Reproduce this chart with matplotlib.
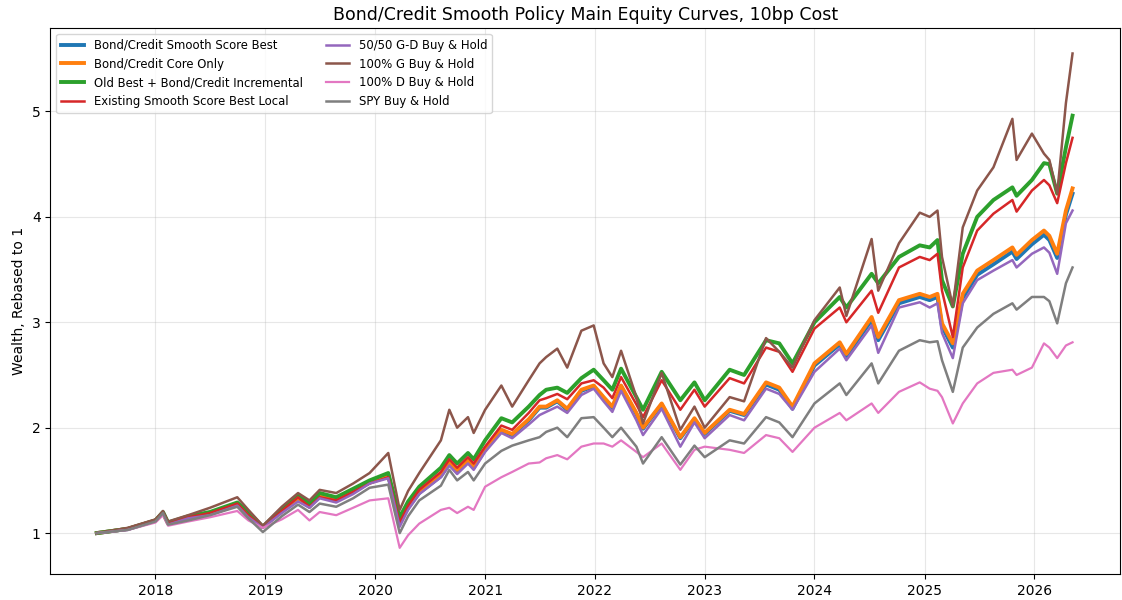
import pandas as pd
import matplotlib
matplotlib.use("Agg")
import matplotlib.pyplot as plt

dates = ["2017-06-20", "2017-10-01", "2018-01-01", "2018-01-26", "2018-02-12", "2018-04-20",
         "2018-07-01", "2018-09-30", "2018-11-06", "2018-12-24", "2019-02-25", "2019-04-20",
         "2019-05-28", "2019-07-01", "2019-08-25", "2019-10-20", "2019-12-14", "2020-02-14",
         "2020-03-23", "2020-04-20", "2020-05-27", "2020-08-07", "2020-09-04", "2020-09-30",
         "2020-11-05", "2020-11-24", "2021-01-01", "2021-02-24", "2021-04-01", "2021-05-26",
         "2021-07-01", "2021-07-23", "2021-08-29", "2021-10-01", "2021-11-17", "2021-12-28",
         "2022-01-30", "2022-02-28", "2022-03-29", "2022-05-19", "2022-06-10", "2022-08-11",
         "2022-10-12", "2022-11-28", "2023-01-01", "2023-03-25", "2023-05-12", "2023-07-24",
         "2023-09-06", "2023-10-20", "2024-01-01", "2024-03-25", "2024-04-16", "2024-07-09",
         "2024-07-31", "2024-10-08", "2024-12-16", "2025-01-18", "2025-02-13", "2025-02-28",
         "2025-04-05", "2025-05-08", "2025-06-25", "2025-08-18", "2025-10-20", "2025-11-03",
         "2025-12-24", "2026-02-02", "2026-02-20", "2026-03-18", "2026-04-16", "2026-05-08"]

smooth_best = [1.00, 1.04, 1.12, 1.19, 1.09, 1.15, 1.19, 1.27, 1.17, 1.06, 1.21, 1.33,
               1.25, 1.35, 1.31, 1.39, 1.48, 1.54, 1.11, 1.24, 1.38, 1.54, 1.66, 1.59,
               1.68, 1.62, 1.79, 1.97, 1.93, 2.07, 2.19, 2.19, 2.25, 2.17, 2.35, 2.39,
               2.28, 2.19, 2.39, 2.13, 1.99, 2.22, 1.90, 2.08, 1.94, 2.16, 2.12, 2.41,
               2.36, 2.18, 2.59, 2.79, 2.68, 3.02, 2.83, 3.18, 3.24, 3.21, 3.24, 2.96,
               2.76, 3.23, 3.45, 3.55, 3.67, 3.60, 3.74, 3.83, 3.78, 3.61, 4.02, 4.22]
core_only = [1.00, 1.04, 1.12, 1.19, 1.09, 1.15, 1.19, 1.28, 1.17, 1.06, 1.21, 1.33,
             1.25, 1.36, 1.32, 1.40, 1.49, 1.55, 1.12, 1.25, 1.39, 1.55, 1.67, 1.60,
             1.69, 1.63, 1.80, 1.98, 1.94, 2.08, 2.20, 2.20, 2.26, 2.18, 2.36, 2.40,
             2.29, 2.20, 2.40, 2.14, 2.00, 2.23, 1.91, 2.09, 1.95, 2.17, 2.13, 2.43,
             2.38, 2.20, 2.61, 2.81, 2.70, 3.05, 2.86, 3.21, 3.27, 3.24, 3.27, 2.99,
             2.80, 3.27, 3.49, 3.59, 3.71, 3.64, 3.78, 3.87, 3.82, 3.65, 4.06, 4.27]
old_best_incr = [1.00, 1.04, 1.12, 1.20, 1.10, 1.16, 1.20, 1.29, 1.20, 1.06, 1.23, 1.36,
                 1.28, 1.38, 1.34, 1.42, 1.50, 1.57, 1.15, 1.30, 1.44, 1.62, 1.74, 1.66,
                 1.76, 1.70, 1.88, 2.09, 2.05, 2.20, 2.31, 2.36, 2.38, 2.33, 2.47, 2.55,
                 2.45, 2.36, 2.56, 2.29, 2.17, 2.53, 2.26, 2.43, 2.26, 2.55, 2.50, 2.83,
                 2.80, 2.61, 3.00, 3.24, 3.14, 3.46, 3.37, 3.62, 3.73, 3.71, 3.78, 3.40,
                 3.15, 3.65, 4.00, 4.16, 4.28, 4.20, 4.35, 4.51, 4.50, 4.22, 4.66, 4.96]
existing_local = [1.00, 1.04, 1.12, 1.19, 1.09, 1.15, 1.19, 1.28, 1.17, 1.05, 1.21, 1.34,
                  1.25, 1.34, 1.31, 1.39, 1.47, 1.53, 1.10, 1.26, 1.41, 1.58, 1.70, 1.62,
                  1.72, 1.66, 1.82, 2.02, 1.98, 2.14, 2.26, 2.28, 2.32, 2.27, 2.42, 2.45,
                  2.38, 2.28, 2.48, 2.22, 2.10, 2.45, 2.17, 2.36, 2.20, 2.47, 2.42, 2.76,
                  2.72, 2.53, 2.94, 3.14, 3.00, 3.30, 3.09, 3.52, 3.62, 3.59, 3.65, 3.30,
                  2.86, 3.52, 3.87, 4.03, 4.16, 4.05, 4.25, 4.35, 4.30, 4.13, 4.51, 4.75]
gd_5050 = [1.00, 1.03, 1.11, 1.18, 1.08, 1.14, 1.17, 1.26, 1.15, 1.05, 1.19, 1.30,
           1.24, 1.33, 1.29, 1.37, 1.47, 1.52, 1.06, 1.22, 1.37, 1.53, 1.64, 1.56,
           1.66, 1.60, 1.77, 1.95, 1.90, 2.03, 2.12, 2.15, 2.20, 2.14, 2.31, 2.37,
           2.25, 2.15, 2.35, 2.07, 1.93, 2.18, 1.82, 2.05, 1.90, 2.12, 2.07, 2.37,
           2.32, 2.17, 2.53, 2.75, 2.64, 2.97, 2.71, 3.14, 3.19, 3.14, 3.18, 2.90,
           2.66, 3.18, 3.40, 3.49, 3.59, 3.52, 3.65, 3.71, 3.66, 3.46, 3.94, 4.06]
g_only = [1.00, 1.05, 1.13, 1.21, 1.11, 1.17, 1.24, 1.34, 1.22, 1.07, 1.25, 1.38,
          1.31, 1.41, 1.38, 1.47, 1.57, 1.76, 1.22, 1.40, 1.57, 1.88, 2.17, 2.00,
          2.10, 1.95, 2.17, 2.40, 2.20, 2.45, 2.61, 2.67, 2.75, 2.57, 2.92, 2.97,
          2.61, 2.48, 2.73, 2.29, 2.04, 2.52, 1.98, 2.20, 2.00, 2.29, 2.25, 2.85,
          2.72, 2.57, 3.02, 3.33, 3.06, 3.79, 3.30, 3.75, 4.04, 4.00, 4.06, 3.62,
          3.15, 3.90, 4.25, 4.47, 4.93, 4.54, 4.79, 4.60, 4.54, 4.22, 5.08, 5.55]
d_only = [1.00, 1.03, 1.10, 1.17, 1.07, 1.11, 1.15, 1.21, 1.12, 1.05, 1.13, 1.22,
          1.12, 1.20, 1.17, 1.24, 1.31, 1.33, 0.86, 0.98, 1.09, 1.22, 1.24, 1.19,
          1.25, 1.22, 1.44, 1.53, 1.58, 1.66, 1.67, 1.71, 1.74, 1.70, 1.82, 1.85,
          1.85, 1.82, 1.88, 1.77, 1.72, 1.85, 1.60, 1.79, 1.82, 1.79, 1.76, 1.93,
          1.90, 1.77, 2.00, 2.14, 2.07, 2.23, 2.14, 2.34, 2.43, 2.37, 2.35, 2.29,
          2.04, 2.23, 2.42, 2.52, 2.55, 2.50, 2.57, 2.80, 2.76, 2.66, 2.78, 2.81]
spy = [1.00, 1.03, 1.11, 1.19, 1.08, 1.12, 1.17, 1.25, 1.14, 1.01, 1.16, 1.27,
       1.20, 1.28, 1.25, 1.33, 1.43, 1.46, 1.00, 1.16, 1.31, 1.45, 1.60, 1.50,
       1.58, 1.50, 1.66, 1.78, 1.83, 1.88, 1.91, 1.96, 2.00, 1.91, 2.09, 2.10,
       2.00, 1.91, 2.00, 1.82, 1.66, 1.91, 1.65, 1.83, 1.72, 1.88, 1.85, 2.10,
       2.05, 1.91, 2.23, 2.42, 2.31, 2.61, 2.42, 2.73, 2.83, 2.81, 2.82, 2.64,
       2.34, 2.76, 2.95, 3.08, 3.18, 3.12, 3.24, 3.24, 3.20, 2.99, 3.37, 3.52]

series = [
    ("Bond/Credit Smooth Score Best", smooth_best, 2.8),
    ("Bond/Credit Core Only", core_only, 2.8),
    ("Old Best + Bond/Credit Incremental", old_best_incr, 2.8),
    ("Existing Smooth Score Best Local", existing_local, 1.8),
    ("50/50 G-D Buy & Hold", gd_5050, 1.8),
    ("100% G Buy & Hold", g_only, 1.8),
    ("100% D Buy & Hold", d_only, 1.6),
    ("SPY Buy & Hold", spy, 1.8),
]

x = pd.to_datetime(dates)

fig = plt.figure(figsize=(11.22, 6), dpi=100)
ax = fig.add_axes([0.045, 0.043, 0.953, 0.91])
for label, vals, lw in series:
    ax.plot(x, vals, linewidth=lw, label=label)

ax.set_title("Bond/Credit Smooth Policy Main Equity Curves, 10bp Cost", fontsize=12.5)
ax.set_ylabel("Wealth, Rebased to 1")
ax.set_xlim(pd.Timestamp("2017-01-17"), pd.Timestamp("2026-10-12"))
ax.set_ylim(0.61, 5.79)
ax.grid(True, alpha=0.3)
ax.legend(loc="upper left", ncol=2, fontsize=8.4)
fig.savefig("out.png", dpi=100)
